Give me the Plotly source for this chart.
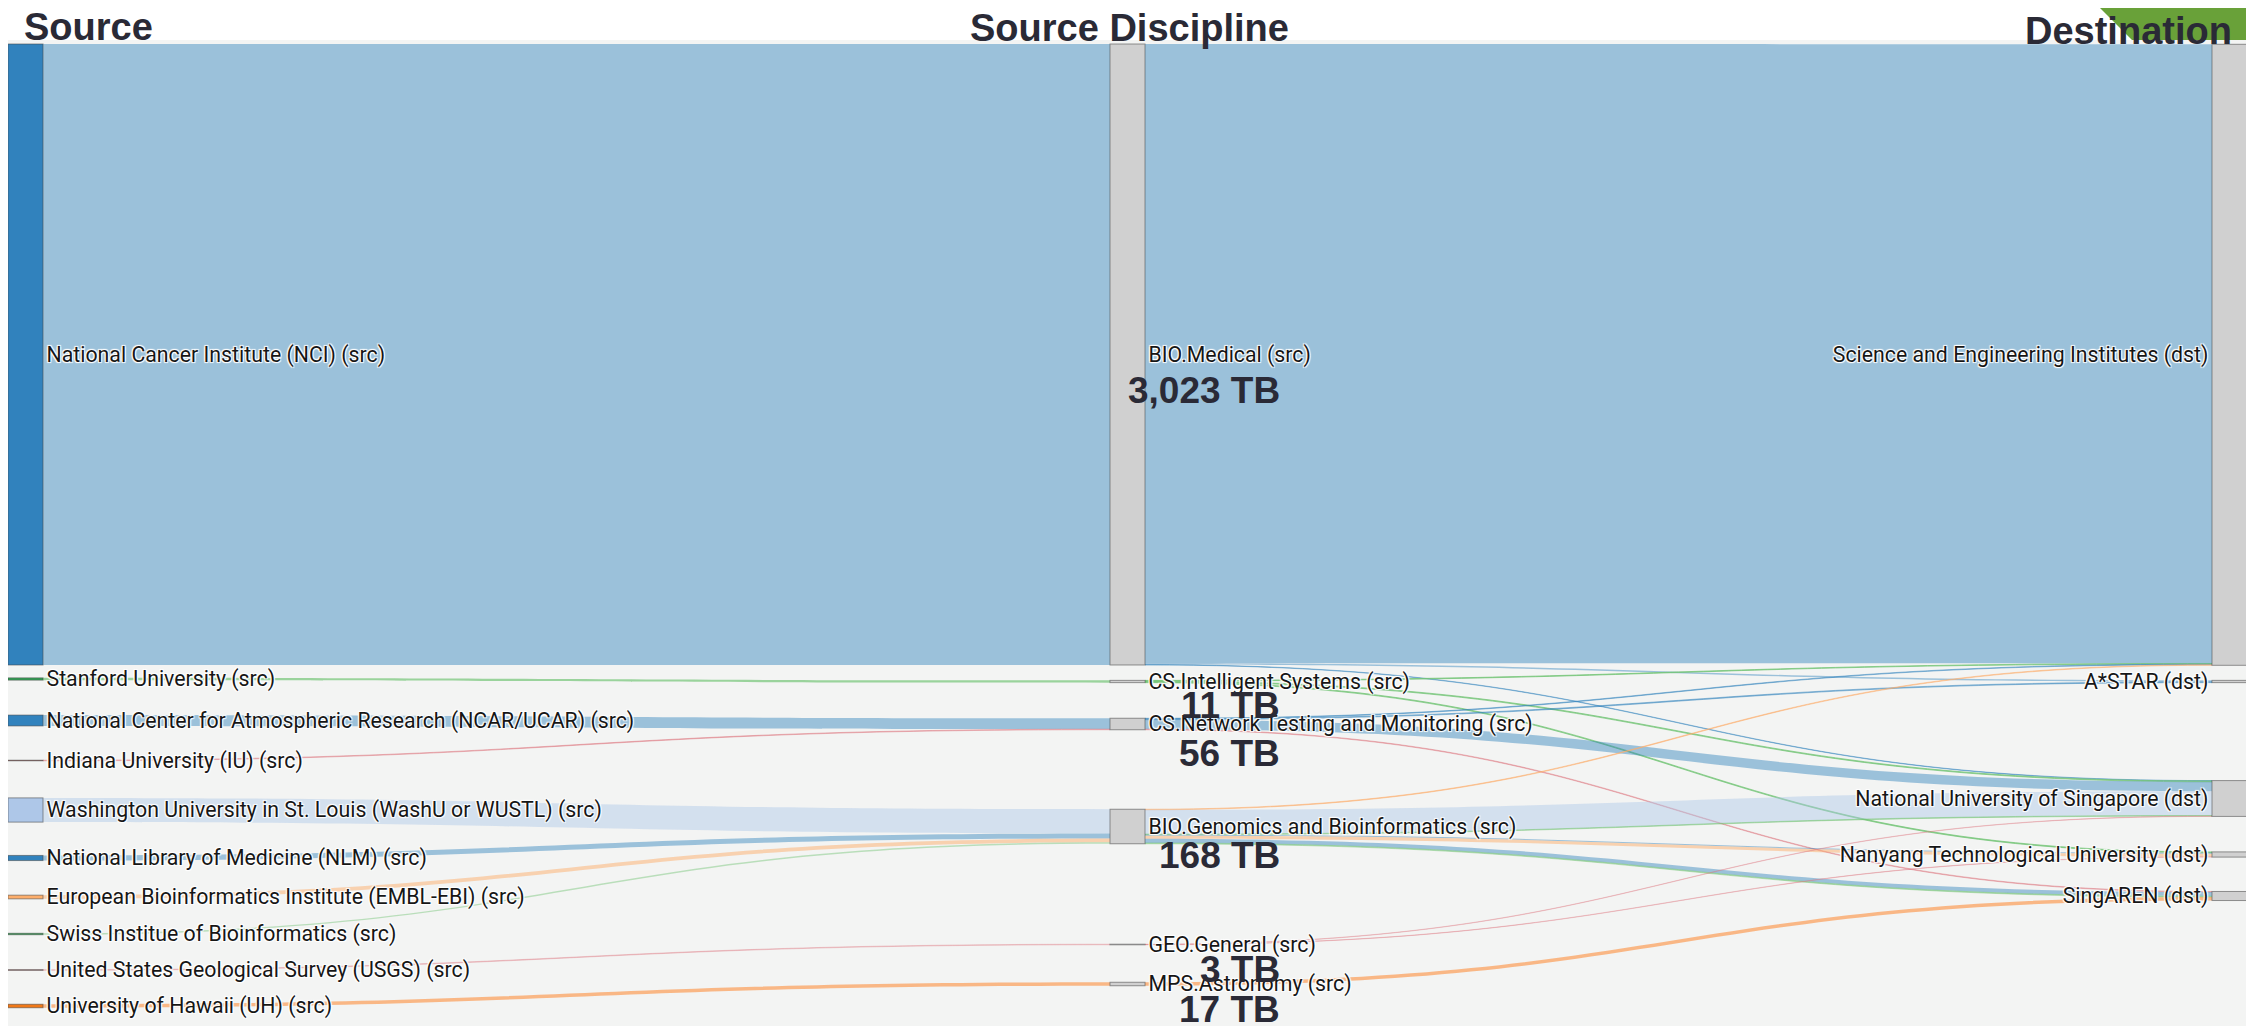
import plotly.graph_objects as go

# The page body adds an 8px margin, so the figure is sized to fill the rest
# of the 2254x1026 window and page-pixel geometry is converted with PAGE_OFF.
PAGE_W, PAGE_H = 2254, 1026
PAGE_OFF = 8
FIG_W, FIG_H = PAGE_W - PAGE_OFF, PAGE_H - PAGE_OFF

# ---------------- data ----------------
source_nodes = [
    "National Cancer Institute (NCI) (src)",
    "Stanford University (src)",
    "National Center for Atmospheric Research (NCAR/UCAR) (src)",
    "Indiana University (IU) (src)",
    "Washington University in St. Louis (WashU or WUSTL) (src)",
    "National Library of Medicine (NLM) (src)",
    "European Bioinformatics Institute (EMBL-EBI) (src)",
    "Swiss Institue of Bioinformatics (src)",
    "United States Geological Survey (USGS) (src)",
    "University of Hawaii (UH) (src)",
]
discipline_nodes = [
    "BIO.Medical (src)",
    "CS.Intelligent Systems (src)",
    "CS.Network Testing and Monitoring (src)",
    "BIO.Genomics and Bioinformatics (src)",
    "GEO.General (src)",
    "MPS.Astronomy (src)",
]
destination_nodes = [
    "Science and Engineering Institutes (dst)",
    "A*STAR (dst)",
    "National University of Singapore (dst)",
    "Nanyang Technological University (dst)",
    "SingAREN (dst)",
]
column_titles = ["Source", "Source Discipline", "Destination"]

# source -> discipline transfers (TB)
sd_src = [0, 1, 2, 3, 4, 5, 6, 7, 8, 9]
sd_dst = [0, 1, 2, 2, 3, 3, 3, 3, 4, 5]
sd_val = [3023, 11, 53, 3, 118, 25, 18, 7, 3, 17]

# discipline -> destination transfers (TB), with originating source
dd_src = [0, 0, 0, 1, 1, 1, 2, 2, 2, 2, 3, 3, 3, 3, 3, 3, 3, 4, 4, 5]
dd_dst = [0, 1, 2, 0, 2, 3, 0, 1, 2, 4, 0, 2, 2, 3, 3, 4, 4, 2, 3, 4]
dd_val = [3014, 7, 2, 3, 4, 4, 3, 4, 46, 3, 3, 118, 3, 5, 15, 20, 4, 1.5, 1.5, 17]
dd_origin = [0, 0, 0, 1, 1, 1, 2, 2, 2, 3, 6, 4, 7, 5, 6, 5, 7, 8, 8, 9]

# ---------------- styles ----------------
source_colors = ["#3182bd", "#31a354", "#3182bd", "#843c39", "#aec7e8",
                 "#3182bd", "#fdae6b", "#31a354", "#843c39", "#f07818"]
source_link_colors = ["rgba(49,130,189,0.45)", "rgba(116,196,118,0.7)",
                      "rgba(49,130,189,0.45)", "rgba(222,120,128,0.45)",
                      "rgba(174,199,232,0.45)", "rgba(49,130,189,0.45)",
                      "rgba(253,174,107,0.5)", "rgba(116,196,118,0.45)",
                      "rgba(222,120,128,0.3)", "rgba(253,141,60,0.6)"]
GRAY_NODE = "#d0d0d0"
NODE_BORDER = "rgba(70,70,70,0.55)"

# layout geometry, in page pixels
DOM_L, DOM_R, DOM_T, DOM_B = 8, 2247, 44, 1010
NODE_T = 35
SRC_Y_PX = [354.5, 679, 720.5, 760.5, 810, 858, 897, 934, 970, 1006]
DISC_Y_PX = [354.5, 681.5, 724, 826.5, 944.5, 984]
DEST_Y_PX = [354.8, 681.5, 798.5, 854.5, 896]
TB_LABEL_Y_PX = [390, 705, 753, 855, 969, 1009]
TB_LABEL_X_PX = 1282
TITLE_POS_PX = [(22, 27, "left"), (1129, 28, "center"), (2234, 30.5, "right")]


def px_x(px):
    return (px - PAGE_OFF) / FIG_W


def px_y(py):
    return 1 - (py - PAGE_OFF) / FIG_H


dom_w = DOM_R - DOM_L
dom_h = DOM_B - DOM_T

n_s, n_d, n_t = len(source_nodes), len(discipline_nodes), len(destination_nodes)
labels = source_nodes + discipline_nodes + destination_nodes
node_colors = source_colors + [GRAY_NODE] * (n_d + n_t)

xs = ([(NODE_T / 2) / dom_w] * n_s + [0.5] * n_d
      + [(dom_w - NODE_T / 2) / dom_w] * n_t)
ys = [(p - DOM_T) / dom_h for p in SRC_Y_PX + DISC_Y_PX + DEST_Y_PX]

link_source = list(sd_src) + [n_s + s for s in dd_src]
link_target = [n_s + t for t in sd_dst] + [n_s + n_d + t for t in dd_dst]
link_value = sd_val + dd_val
link_color = [source_link_colors[s] for s in sd_src] + [source_link_colors[o] for o in dd_origin]

pad = (dom_h - 673.4) / (n_s - 1)

fig = go.Figure(go.Sankey(
    arrangement="freeform",
    domain=dict(x=[max(0, px_x(DOM_L)), px_x(DOM_R)], y=[px_y(DOM_B), px_y(DOM_T)]),
    node=dict(
        label=labels,
        color=node_colors,
        x=xs,
        y=ys,
        pad=pad,
        thickness=NODE_T,
        line=dict(color=NODE_BORDER, width=1),
    ),
    link=dict(
        source=link_source,
        target=link_target,
        value=link_value,
        color=link_color,
    ),
    textfont=dict(family="Roboto", size=21.3, color="#161616"),
))

# discipline totals
disc_tot = [0] * n_d
for d, v in zip(sd_dst, sd_val):
    disc_tot[d] += v

annotations = []
for i, tot in enumerate(disc_tot):
    annotations.append(dict(
        text="<b>%s TB</b>" % format(int(round(tot)), ","),
        x=px_x(TB_LABEL_X_PX), y=px_y(TB_LABEL_Y_PX[i]),
        xref="paper", yref="paper", xanchor="right", yanchor="middle",
        showarrow=False,
        font=dict(family="Liberation Sans, Arial", size=37, color="#2a2a36"),
    ))
for title, (px, py, anc) in zip(column_titles, TITLE_POS_PX):
    annotations.append(dict(
        text="<b>%s</b>" % title,
        x=px_x(px), y=px_y(py),
        xref="paper", yref="paper", xanchor=anc, yanchor="middle",
        showarrow=False,
        font=dict(family="Liberation Sans, Arial", size=38, color="#2a2a36"),
    ))

shapes = [
    dict(type="path", xref="paper", yref="paper", layer="below",
         path="M %f,1 L 1,1 L 1,%f Z" % (px_x(2100), px_y(162)),
         fillcolor="#69a139", line=dict(width=0)),
    dict(type="rect", xref="paper", yref="paper", layer="below",
         x0=0, x1=1, y0=0, y1=px_y(40),
         fillcolor="#f3f4f3", line=dict(width=0)),
]

fig.update_layout(
    width=FIG_W, height=FIG_H,
    margin=dict(l=0, r=0, t=0, b=0),
    paper_bgcolor="white",
    annotations=annotations,
    shapes=shapes,
    font=dict(family="Roboto"),
)

fig.write_html("out.html")
